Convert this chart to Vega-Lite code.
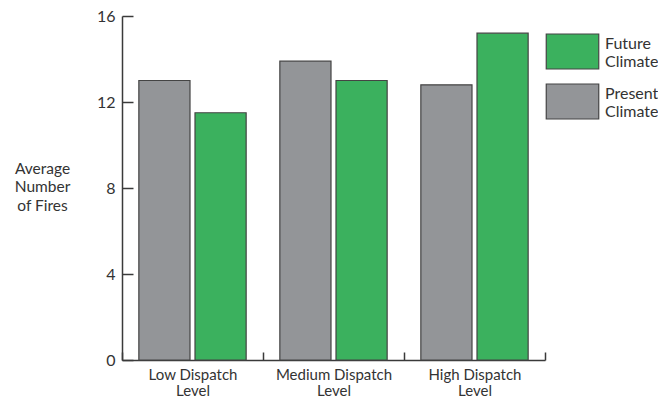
{
  "$schema": "https://vega.github.io/schema/vega-lite/v6.json",
  "width": 423,
  "height": 344,
  "autosize": "none",
  "padding": {"left": 122, "top": 16, "right": 113, "bottom": 42},
  "background": "white",
  "config": {
    "view": {"stroke": null},
    "font": "Lato",
    "axis": {"labelFont": "Lato", "titleFont": "Lato", "labelColor": "#333333", "titleColor": "#333333", "domainColor": "#3a3a3a", "tickColor": "#3a3a3a", "domainWidth": 1.5, "tickWidth": 1.5, "grid": false},
    "legend": {"labelFont": "Lato", "labelColor": "#333333"}
  },
  "data": {
    "values": [
      {"level": "Low Dispatch Level", "climate": "Present Climate", "fires": 13.0},
      {"level": "Low Dispatch Level", "climate": "Future Climate", "fires": 11.5},
      {"level": "Medium Dispatch Level", "climate": "Present Climate", "fires": 13.9},
      {"level": "Medium Dispatch Level", "climate": "Future Climate", "fires": 13.0},
      {"level": "High Dispatch Level", "climate": "Present Climate", "fires": 12.8},
      {"level": "High Dispatch Level", "climate": "Future Climate", "fires": 15.2}
    ]
  },
  "mark": {"type": "bar", "stroke": "#444444", "strokeWidth": 1.2},
  "encoding": {
    "x": {
      "field": "level",
      "type": "nominal",
      "sort": ["Low Dispatch Level", "Medium Dispatch Level", "High Dispatch Level"],
      "scale": {"paddingInner": 0, "paddingOuter": 0},
      "axis": {
        "title": null,
        "labelAngle": 0,
        "labelFontSize": 15,
        "labelLineHeight": 16,
        "labelPadding": 15,
        "labelExpr": "datum.label ? [replace(datum.label, ' Level', ''), 'Level'] : ''",
        "tickBand": "extent",
        "tickSize": -8,
        "labelBaseline": "top"
      }
    },
    "xOffset": {
      "field": "climate",
      "type": "nominal",
      "sort": ["Present Climate", "Future Climate"],
      "scale": {"paddingInner": 0.089, "paddingOuter": 0.3}
    },
    "y": {
      "field": "fires",
      "type": "quantitative",
      "scale": {"domain": [0, 16], "nice": false},
      "axis": {
        "values": [0, 4, 8, 12, 16],
        "title": ["Average", "Number", "of Fires"],
        "titleAngle": 0,
        "titleFontSize": 15.5,
        "titleFontWeight": "normal",
        "titleAlign": "center",
        "titleBaseline": "middle",
        "titleX": -80,
        "titleY": 152,
        "titleLineHeight": 18.5,
        "labelFontSize": 16,
        "tickSize": -11,
        "labelPadding": 18
      }
    },
    "color": {
      "field": "climate",
      "type": "nominal",
      "scale": {"domain": ["Future Climate", "Present Climate"], "range": ["#3bb15e", "#939598"]},
      "legend": {
        "title": null,
        "orient": "none",
        "legendX": 432,
        "legendY": 17,
        "symbolType": "M-1.5,-1H1.5V1H-1.5Z",
        "symbolSize": 1225,
        "symbolStrokeColor": "#444444",
        "symbolStrokeWidth": 1.2,
        "symbolOpacity": 1,
        "labelFontSize": 16,
        "labelLineHeight": 20,
        "labelOffset": 14,
        "labelBaseline": "bottom",
        "rowPadding": 9,
        "labelExpr": "split(datum.label, ' ')"
      }
    }
  }
}
